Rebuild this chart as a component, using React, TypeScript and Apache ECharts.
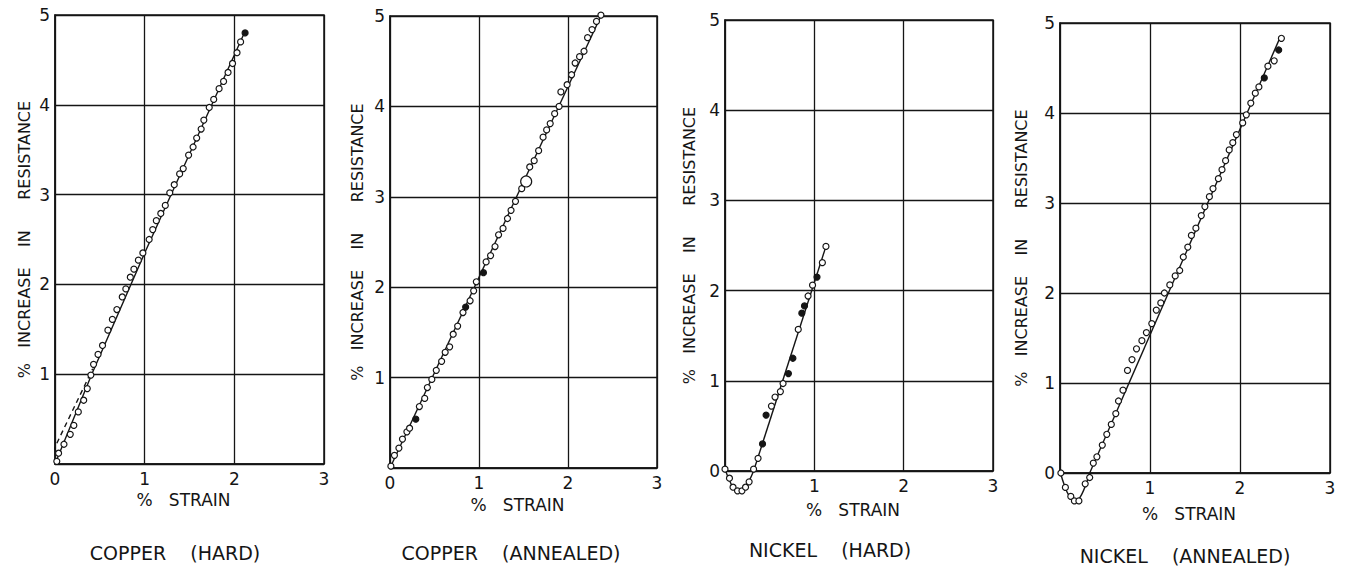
import React, { useEffect, useRef } from 'react';
import * as echarts from 'echarts';

const X_TICKS = [0, 1, 2, 3];
const Y_TICKS = [0, 1, 2, 3, 4, 5];
const PANEL_TITLES = ['COPPER    (HARD)', 'COPPER    (ANNEALED)', 'NICKEL    (HARD)', 'NICKEL    (ANNEALED)'];
const X_NAME = '%   STRAIN';
const Y_NAME = '%   INCREASE    IN      RESISTANCE';

// Copper (hard)
const copperHardOpen = [
  [0.02, 0.03], [0.04, 0.12], [0.10, 0.22], [0.17, 0.33], [0.21, 0.43], [0.26, 0.58], [0.32, 0.71],
  [0.36, 0.84], [0.40, 0.99], [0.43, 1.11], [0.48, 1.22], [0.53, 1.32], [0.59, 1.49], [0.64, 1.61],
  [0.69, 1.72], [0.75, 1.86], [0.79, 1.95], [0.84, 2.08], [0.88, 2.17], [0.93, 2.27], [0.98, 2.35],
  [1.05, 2.50], [1.09, 2.61], [1.13, 2.71], [1.18, 2.79], [1.23, 2.88], [1.28, 3.02], [1.33, 3.11],
  [1.39, 3.23], [1.43, 3.29], [1.49, 3.44], [1.54, 3.53], [1.58, 3.63], [1.63, 3.73], [1.66, 3.83],
  [1.72, 3.97], [1.77, 4.06], [1.83, 4.18], [1.88, 4.26], [1.93, 4.36], [1.98, 4.46], [2.03, 4.58],
  [2.07, 4.70],
];
const copperHardFilled = [[2.12, 4.80]];
const copperHardLine = [[0, 0], [0.41, 1.0], [1.0, 2.35], [2.12, 4.82]];
const copperHardDashed = [[-0.11, -0.04], [0.42, 1.06]];

// Copper (annealed)
const copperAnnealedOpen = [
  [0.01, 0.02], [0.05, 0.14], [0.10, 0.22], [0.14, 0.32], [0.19, 0.40], [0.22, 0.44], [0.33, 0.68],
  [0.39, 0.77], [0.42, 0.89], [0.47, 0.98], [0.52, 1.08], [0.58, 1.18], [0.62, 1.28], [0.67, 1.34],
  [0.71, 1.48], [0.76, 1.57], [0.82, 1.72], [0.90, 1.85], [0.94, 1.96], [0.97, 2.06], [1.08, 2.28],
  [1.13, 2.35], [1.18, 2.45], [1.22, 2.58], [1.27, 2.65], [1.32, 2.76], [1.36, 2.85], [1.41, 2.95],
  [1.48, 3.09], [1.57, 3.33], [1.62, 3.40], [1.67, 3.51], [1.72, 3.66], [1.76, 3.74], [1.80, 3.81],
  [1.85, 3.92], [1.90, 4.00], [1.92, 4.16], [1.99, 4.24], [2.04, 4.35], [2.08, 4.48], [2.13, 4.55],
  [2.18, 4.61], [2.22, 4.76], [2.27, 4.85], [2.32, 4.94], [2.37, 5.01],
];
const copperAnnealedFilled = [[0.29, 0.54], [0.85, 1.78], [1.05, 2.16]];
const copperAnnealedLarge = [[1.53, 3.17]];
const copperAnnealedLine = [[0, 0], [2.37, 5.0]];

// Nickel (hard)
const nickelHardOpen = [
  [0.00, 0.02], [0.05, -0.08], [0.09, -0.18], [0.14, -0.22], [0.19, -0.22], [0.23, -0.18], [0.27, -0.12],
  [0.32, 0.02], [0.37, 0.14], [0.52, 0.72], [0.56, 0.82], [0.62, 0.88], [0.65, 0.97], [0.82, 1.57],
  [0.93, 1.94], [0.98, 2.06], [1.09, 2.31], [1.13, 2.49],
];
const nickelHardFilled = [[0.42, 0.30], [0.46, 0.62], [0.71, 1.08], [0.76, 1.25], [0.86, 1.75], [0.89, 1.83], [1.03, 2.15]];
const nickelHardCurve = [[0, 0.02], [0.04, -0.08], [0.09, -0.18], [0.16, -0.23], [0.22, -0.19], [0.27, -0.11], [0.32, 0]];
const nickelHardLine = [[0.32, 0], [1.13, 2.49]];

// Nickel (annealed)
const nickelAnnealedOpen = [
  [0.01, 0.00], [0.06, -0.16], [0.12, -0.26], [0.16, -0.31], [0.21, -0.31], [0.28, -0.12], [0.33, -0.05],
  [0.37, 0.11], [0.41, 0.18], [0.47, 0.31], [0.52, 0.43], [0.57, 0.54], [0.62, 0.66], [0.65, 0.80],
  [0.70, 0.92], [0.75, 1.14], [0.80, 1.26], [0.85, 1.38], [0.91, 1.47], [0.96, 1.56], [1.02, 1.66],
  [1.07, 1.81], [1.12, 1.89], [1.16, 2.00], [1.22, 2.09], [1.28, 2.19], [1.33, 2.25], [1.37, 2.40],
  [1.42, 2.51], [1.46, 2.64], [1.51, 2.72], [1.57, 2.86], [1.61, 2.96], [1.66, 3.07], [1.70, 3.16],
  [1.76, 3.27], [1.80, 3.37], [1.84, 3.47], [1.88, 3.59], [1.92, 3.67], [1.96, 3.76], [2.03, 3.89],
  [2.07, 3.98], [2.12, 4.11], [2.17, 4.22], [2.21, 4.29], [2.31, 4.52], [2.38, 4.58], [2.46, 4.83],
];
const nickelAnnealedFilled = [[2.27, 4.39], [2.43, 4.70]];
const nickelAnnealedCurve = [[0, 0.02], [0.05, -0.14], [0.10, -0.25], [0.17, -0.31], [0.24, -0.24], [0.33, 0]];
const nickelAnnealedLine = [[0.33, 0], [2.45, 4.85]];

const INK = '#151515';
const FONT = 'DejaVu Sans';

const GRIDS = [
  { left: 55, top: 15, width: 269, height: 449 },
  { left: 390, top: 16, width: 267, height: 452 },
  { left: 725, top: 20, width: 268, height: 451 },
  { left: 1060, top: 23, width: 270, height: 450 },
];
const Y_NAME_GAPS = [23, 25, 28, 31];
const SHOW_X_ZERO = [true, true, false, false];
const TITLE_POS = [[175, 553], [511, 553], [830, 550], [1185, 556]];

function lineSeries(i: number, data: number[][], opts: any = {}) {
  return {
    type: 'line', xAxisIndex: i, yAxisIndex: i, data, symbol: 'none', clip: false, z: 2,
    lineStyle: { color: INK, width: 1.4, type: opts.dashed ? [5, 4] : 'solid' },
    smooth: opts.smooth || false,
  };
}
function scatterSeries(i: number, data: number[][], filled: boolean, size = 6) {
  return {
    type: 'scatter', xAxisIndex: i, yAxisIndex: i, data, symbol: 'circle', symbolSize: size, clip: false, z: 3,
    itemStyle: { color: filled ? INK : '#fff', borderColor: INK, borderWidth: 1.2, opacity: 1 },
  };
}

export default function App() {
  const ref = useRef<HTMLDivElement>(null);
  useEffect(() => {
    if (!ref.current) return;
    const chart = echarts.init(ref.current, undefined, { renderer: 'svg' });
    const grid = GRIDS.map((g) => ({ ...g, show: true, borderColor: INK, borderWidth: 1.5, backgroundColor: 'transparent' }));
    const xAxis = GRIDS.map((_, i) => ({
      type: 'value', gridIndex: i, min: X_TICKS[0], max: X_TICKS[X_TICKS.length - 1], interval: 1,
      axisLine: { show: true, onZero: false, lineStyle: { color: INK, width: 1.5 } },
      axisTick: { show: false },
      splitLine: { show: true, lineStyle: { color: INK, width: 1.3 } },
      axisLabel: {
        color: INK, fontSize: 17, fontFamily: FONT, margin: 6,
        formatter: (v: number) => (v === 0 && !SHOW_X_ZERO[i] ? '' : String(v)),
      },
      name: X_NAME, nameLocation: 'middle', nameGap: 26 + i * 2,
      nameTextStyle: { color: INK, fontSize: 17, fontFamily: FONT, padding: [0, 12, 0, 0] },
    }));
    const yAxis = GRIDS.map((_, i) => ({
      type: 'value', gridIndex: i, min: Y_TICKS[0], max: Y_TICKS[Y_TICKS.length - 1], interval: 1,
      axisLine: { show: true, onZero: false, lineStyle: { color: INK, width: 1.5 } },
      axisTick: { show: false },
      splitLine: { show: true, lineStyle: { color: INK, width: 1.3 } },
      axisLabel: {
        color: INK, fontSize: 17, fontFamily: FONT, margin: 5,
        formatter: (v: number) => (v === 0 && SHOW_X_ZERO[i] ? '' : String(v)),
      },
      name: Y_NAME, nameLocation: 'middle', nameRotate: 90, nameGap: Y_NAME_GAPS[i],
      nameTextStyle: { color: INK, fontSize: 16, fontFamily: FONT },
    }));
    const series: any[] = [
      lineSeries(0, copperHardLine),
      lineSeries(0, copperHardDashed, { dashed: true }),
      scatterSeries(0, copperHardOpen, false),
      scatterSeries(0, copperHardFilled, true),
      lineSeries(1, copperAnnealedLine),
      scatterSeries(1, copperAnnealedOpen, false),
      scatterSeries(1, copperAnnealedFilled, true),
      scatterSeries(1, copperAnnealedLarge, false, 11),
      lineSeries(2, nickelHardCurve, { smooth: 0.4 }),
      lineSeries(2, nickelHardLine),
      scatterSeries(2, nickelHardOpen, false),
      scatterSeries(2, nickelHardFilled, true),
      lineSeries(3, nickelAnnealedCurve, { smooth: 0.4 }),
      lineSeries(3, nickelAnnealedLine),
      scatterSeries(3, nickelAnnealedOpen, false),
      scatterSeries(3, nickelAnnealedFilled, true),
    ];
    const graphic = PANEL_TITLES.map((t, i) => ({
      type: 'text', x: TITLE_POS[i][0], y: TITLE_POS[i][1],
      style: { text: t, fill: INK, font: `19px "${FONT}"`, textAlign: 'center', textVerticalAlign: 'middle' },
    }));
    chart.setOption({
      animation: false,
      backgroundColor: '#fff',
      grid, xAxis, yAxis, series, graphic,
    });
    return () => chart.dispose();
  }, []);
  return (
    <div
      ref={ref}
      style={{ position: 'fixed', left: 0, top: 0, width: 1346, height: 576, background: '#fff' }}
    />
  );
}
